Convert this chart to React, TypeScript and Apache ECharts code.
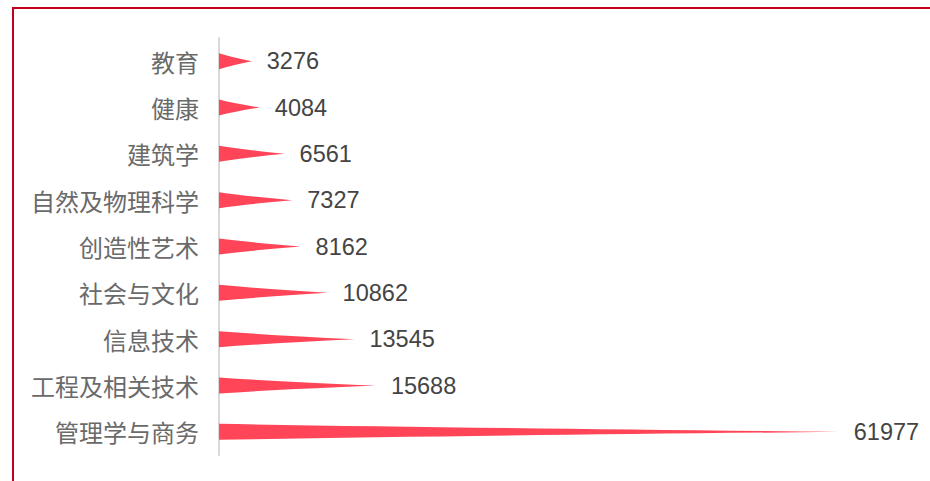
import React, { useEffect, useRef } from "react";
import * as echarts from "echarts";

const categories = ["教育", "健康", "建筑学", "自然及物理科学", "创造性艺术", "社会与文化", "信息技术", "工程及相关技术", "管理学与商务"];
const values = [3276, 4084, 6561, 7327, 8162, 10862, 13545, 15688, 61977];

export default function App() {
  const ref = useRef<HTMLDivElement>(null);
  useEffect(() => {
    if (!ref.current) return;
    const chart = echarts.init(ref.current, undefined, { renderer: "svg" });
    chart.setOption({
      animation: false,
      grid: { left: 219, right: 11, top: 38, bottom: 26, containLabel: false },
      xAxis: {
        type: "value",
        min: 0,
        max: 70000,
        show: false,
      },
      yAxis: {
        type: "category",
        data: categories,
        inverse: true,
        axisLine: { show: true, lineStyle: { color: "#d9d9d9", width: 2 } },
        axisTick: { show: false },
        splitLine: { show: false },
        axisLabel: {
          color: "#6a6a6a",
          fontSize: 24,
          margin: 20,
          padding: [0, 0, 5, 0],
          fontFamily: '"Noto Sans CJK SC", sans-serif',
        },
      },
      series: [
        {
          type: "pictorialBar",
          data: values,
          symbol: "path://M0,0 Q4,2.6 10,5 Q4,7.4 0,10 Z",
          symbolSize: ["100%", 16],
          symbolPosition: "start",
          itemStyle: { color: "#ff4557" },
          z: 10,
          label: {
            show: true,
            position: "right",
            distance: 15,
            color: "#444",
            fontSize: 23.5,
            fontFamily: 'Arial, "Liberation Sans", sans-serif',
          },
        },
      ],
    });
    return () => chart.dispose();
  }, []);
  return (
    <div style={{ position: "fixed", left: 0, top: 0, width: 930, height: 481, overflow: "hidden", background: "#fff" }}>
      <div
        style={{
          position: "absolute",
          left: 12,
          top: 7,
          width: 1000,
          height: 600,
          border: "2px solid #c3001b",
          boxSizing: "border-box",
        }}
      />
      <div ref={ref} style={{ position: "absolute", left: 0, top: 0, width: 930, height: 481 }} />
    </div>
  );
}
